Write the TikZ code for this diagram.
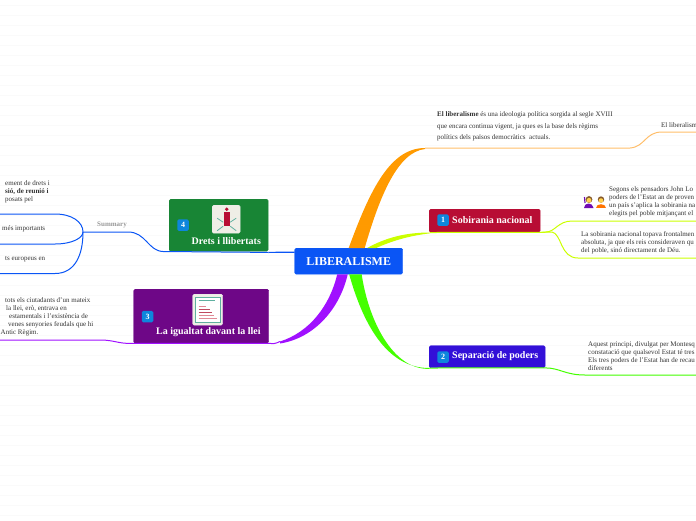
\documentclass[tikz,border=0pt]{standalone}
\usepackage{fontspec}
\setmainfont{Liberation Serif}
\usetikzlibrary{calc}
\definecolor{rootblue}{HTML}{0A55F5}
\definecolor{sobiraniared}{HTML}{B80D34}
\definecolor{separacioblue}{HTML}{3310D8}
\definecolor{igualtatpurple}{HTML}{6E0787}
\definecolor{dretsgreen}{HTML}{188535}
\definecolor{orangebranch}{HTML}{FF9A00}
\definecolor{orangethin}{HTML}{FFBE6A}
\definecolor{limebranch}{HTML}{CBFF00}
\definecolor{greenbranch}{HTML}{44FF00}
\definecolor{purplebranch}{HTML}{A010FF}
\definecolor{bluebranch}{HTML}{0A55F5}
\definecolor{badgeblue}{HTML}{0E86DC}
\definecolor{iconcream}{HTML}{EFEEE6}
\definecolor{spoketeal}{HTML}{5FB0A0}
\definecolor{rowdark}{HTML}{C04A60}
\definecolor{rowpale}{HTML}{E08A96}

\begin{document}
\begin{tikzpicture}[
                    x=1pt,y=-1pt,
                    every node/.style={inner sep=0pt},
                    topicbox/.style={draw=#1,fill=#1,rounded corners=1.5pt,anchor=north west},
                    boxlabel/.style={text=white,font=\fontsize{10}{12}\bfseries\selectfont,anchor=west},
                    badge/.style={fill=badgeblue,text=white,rounded corners=1.5pt,minimum size=11.5pt,font=\fontsize{8}{9}\bfseries\selectfont},
                    notetext/.style={align=left,anchor=west,text=black!80,font=\fontsize{7}{8}\selectfont},
                    branch/.style={draw=#1,line width=1pt},
                    iconbox/.style={fill=iconcream,draw=black!8,rounded corners=1.5pt,anchor=north west},
                    spoke/.style={draw=spoketeal,line width=0.8pt}
                  ]
                  \useasboundingbox (0,0) rectangle (696,520);
                  \clip (0,0) rectangle (696,520);
                  \foreach \rowy in {5,15,...,515}
                    \draw[black!2,line width=1pt] (0,\rowy+.7) -- (696,\rowy+.7);

                  \node[topicbox=rootblue,minimum width=108pt,minimum height=26pt] (root) at (294.5,248) {};

                  \node[topicbox=sobiraniared,minimum width=111pt,minimum height=23pt] (sobirania) at (429,209) {};
                  \node[topicbox=separacioblue,minimum width=116pt,minimum height=22pt] (separacio) at (429,345.5) {};
                  \node[topicbox=igualtatpurple,minimum width=135pt,minimum height=54pt] (igualtat) at (133.5,289) {};
                  \node[topicbox=dretsgreen,minimum width=99pt,minimum height=52pt] (drets) at (169,199) {};

                  \coordinate (orangeend) at (425,148);
                  \coordinate (limeend) at (430,232.5);
                  \coordinate (greenend) at (429,368);
                  \coordinate (purpleend) at (280,341.5);
                  \coordinate (summaryjoin) at (83,232);

                  \fill[orangebranch] ($(root.north)+(0,0)$) .. controls (370,190) and (390,148) .. (orangeend) -- ($(orangeend)+(0,1)$) .. controls (398,152) and (380,195) .. ($(root.north)+(16,0)$) -- cycle;
                  \fill[limebranch] ($(root.north)+(18.5,0)$) .. controls (385,238) and (405,232.5) .. (limeend) -- ($(limeend)+(0,.8)$) .. controls (408,236) and (392,241) .. ($(root.north)+(27.5,0)$) -- cycle;
                  \fill[greenbranch] ($(root.south)+(0.5,0)$) .. controls (362,320) and (385,368) .. (greenend) -- ($(greenend)+(0,.8)$) .. controls (392,370) and (368,318) .. ($(root.south)+(13,0)$) -- cycle;
                  \fill[purplebranch] ($(root.south)+(-11.5,0)$) .. controls (330,305) and (310,332) .. (purpleend) -- ($(purpleend)+(0,2)$) .. controls (315,338) and (340,308) .. ($(root.south)+(-1,0)$) -- cycle;
                  \draw[bluebranch,line width=1.2pt] (root.west) ++(0,-9) -- ($(drets.south east)+(0,1)$);

                  \draw[branch=orangethin] (orangeend) -- (630,148) .. controls (645,147) and (645,132) .. (662,132) -- (696,132);
                  \draw[branch=limebranch] (limeend) -- (sobirania.south east) -- (546,232) .. controls (555,232) and (558,221) .. (572,221) -- (696,221);
                  \draw[branch=limebranch] (sobirania.south east) -- (552,232) .. controls (562,234) and (560,258) .. (578,258) -- (696,258);
                  \draw[branch=greenbranch] (greenend) -- (separacio.south east) .. controls (560,368) and (565,375) .. (585,375) -- (696,375);
                  \draw[branch=purplebranch] (purpleend) .. controls (275,344) and (272,344) .. (igualtat.south east) -- (igualtat.south west) .. controls (118,344) and (115,340) .. (100,340) -- (0,340);
                  \draw[branch=bluebranch] ($(drets.south east)+(0,1)$) -- (163,251.5) .. controls (148,251) and (146,232) .. (128,232) -- (summaryjoin);
                  \draw[branch=bluebranch] (summaryjoin) .. controls (83,222) and (72,214) .. (55,214) -- (0,214);
                  \draw[branch=bluebranch] (summaryjoin) .. controls (83,238) and (72,244) .. (55,244) -- (0,244);
                  \draw[branch=bluebranch] (summaryjoin) .. controls (83,255) and (75,273.5) .. (55,273.5) -- (0,273.5);

                  \node[text=white,font=\fontsize{12}{14}\bfseries\selectfont] (rootlabel) at (root.center) {LIBERALISME};
                  \node[badge] (badgeone) at (443,220) {1};
                  \node[boxlabel] (sobiranialabel) at (452,220.5) {Sobirania nacional};
                  \node[badge] (badgetwo) at (443,357) {2};
                  \node[boxlabel] (separaciolabel) at (452,356.5) {Separació de poders};
                  \node[badge] (badgethree) at (147.5,316.5) {3};
                  \node[boxlabel] (igualtatlabel) at (156,332.5) {La igualtat davant la llei};
                  \node[badge] (badgefour) at (183,225) {4};
                  \node[boxlabel] (dretslabel) at (191.5,241) {Drets i llibertats};

                  \node[iconbox,minimum width=28pt,minimum height=28pt] (personicon) at (212,205) {};
                  \fill[sobiraniared] ($(personicon.center)+(-2.5,-7)$) rectangle ($(personicon.center)+(3.5,6.5)$);
                  \fill[sobiraniared] ($(personicon.center)+(0.5,-10)$) circle (1.9);
                  \draw[spoke] ($(personicon.center)+(-3,3)$) -- ($(personicon.center)+(-9,-1)$);
                  \draw[spoke] ($(personicon.center)+(4,3)$) -- ($(personicon.center)+(10,-1)$);
                  \draw[spoke] ($(personicon.center)+(-3,7)$) -- ($(personicon.center)+(-9,11.5)$);
                  \draw[spoke] ($(personicon.center)+(4,7)$) -- ($(personicon.center)+(10,11.5)$);

                  \node[iconbox,minimum width=30pt,minimum height=31pt] (docicon) at (192.5,294) {};
                  \draw[draw=spoketeal,line width=0.8pt,fill=white] ($(docicon.north west)+(3,3)$) rectangle ($(docicon.south east)+(-3,-3)$);
                  \draw[spoketeal,line width=1.2pt] ($(docicon.north west)+(6,6.6)$) -- ($(docicon.north west)+(22,6.6)$);
                  \foreach \rowi/\rowlen/\rowcol in {12.5/7/rowpale,15.5/11/rowdark,18.5/13/rowdark,21.5/15/rowpale,24.5/18/rowpale}
                    \draw[\rowcol,line width=1.2pt] ($(docicon.north west)+(6,\rowi)$) -- ($(docicon.north west)+(6+\rowlen,\rowi)$);

                  \node[text=black!40,font=\fontsize{7}{8}\bfseries\selectfont] (summarylabel) at (112,225) {Summary};

                  \node[notetext] (liberalismenote) at (437,126.5) {\textbf{El liberalisme} és una ideologia política sorgida al segle XVIII\\[3.6pt]que encara continua vigent, ja ques es la base dels règims\\[3.6pt]polítics dels països democràtics~ actuals.};
                  \node[notetext] (liberalismetail) at (661,125) {El liberalism};
                  \node[notetext] (segonsnote) at (609,202) {Segons els pensadors John Lo\\poders de l'Estat an de proven\\un país s'aplica la sobirania na\\elegits pel poble mitjançant el};
                  \node[notetext] (topavanote) at (581,243) {La sobirania nacional topava frontalmen\\absoluta, ja que els reis consideraven qu\\del poble, sinó directament de Déu.};
                  \node[notetext] (aquestnote) at (588,356) {Aquest principi, divulgat per Montesq\\constatació que qualsevol Estat té tres\\Els tres poders de l'Estat han de recau\\diferents};
                  \node[notetext] (dretsnote) at (5,192) {ement de drets i\\\textbf{sió, de reunió i}\\posats pel};
                  \node[notetext] (importantsnote) at (2,229) {més importants};
                  \node[notetext] (europeusnote) at (5,259) {ts europeus en};
                  \node[notetext] (igualtatnote) at (0.5,317) {\hspace{4.5pt}tots els ciutadants d'un mateix\\\hspace{5.5pt}la llei, erò, entrava en\\\hspace{8.5pt}estamentals i l'existència de\\\hspace{7.5pt}venes senyories feudals que hi\\Antic Règim.};

                  \fill[purplebranch!70!black] (584,208) .. controls (584,202) and (593,202) .. (593.5,208) -- cycle;
                  \draw[purplebranch!70!black,line width=1.2pt] (585,203) -- (584.5,197);
                  \fill[brown!70!black] (589,199.5) circle (3.4);
                  \fill[orange!50!yellow!70!white] (589,200.3) circle (2.4);
                  \fill[orange!90!red] (596,208) .. controls (596,202.5) and (606,202.5) .. (606,208) -- cycle;
                  \fill[brown!70!black] (601,199.5) circle (3.2);
                  \fill[orange!50!yellow!70!white] (601,200.5) circle (2.3);
                \end{tikzpicture}
\end{document}
